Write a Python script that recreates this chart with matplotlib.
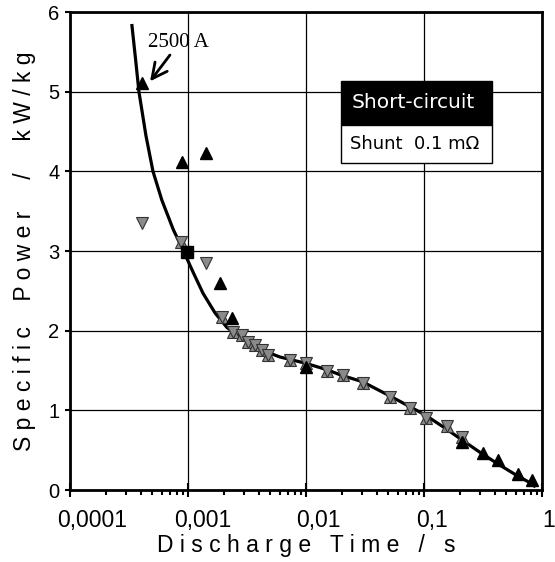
import matplotlib
matplotlib.use("Agg")
import matplotlib.pyplot as plt
import matplotlib.transforms as mtransforms
from matplotlib.patches import Rectangle

# --- data ---
# smooth fit line
curve_t = [0.000335, 0.00036, 0.000384, 0.00044, 0.000505, 0.0006, 0.00075,
           0.00091, 0.0011, 0.00134, 0.0017, 0.00214, 0.0028, 0.004, 0.006,
           0.01, 0.015, 0.02, 0.03, 0.05, 0.075, 0.1, 0.15, 0.2, 0.3, 0.42,
           0.6, 0.75, 0.86]
curve_p = [5.83, 5.4, 5.0, 4.45, 4.0, 3.64, 3.27, 3.01, 2.74, 2.47, 2.22,
           2.04, 1.91, 1.77, 1.67, 1.59, 1.51, 1.44, 1.36, 1.19, 1.05, 0.95,
           0.78, 0.65, 0.47, 0.33, 0.19, 0.11, 0.05]

# short-circuit (black up triangles)
sc_t = [0.00041, 0.00089, 0.00142, 0.00187, 0.00236, 0.01, 0.21, 0.316,
        0.42, 0.63, 0.82]
sc_p = [5.11, 4.12, 4.23, 2.6, 2.16, 1.54, 0.6, 0.46, 0.38, 0.2, 0.13]

# shunt 0.1 mOhm (grey, overlapping up/down triangles)
sh_t = [0.00087, 0.00194, 0.0024, 0.00287, 0.00322, 0.0037, 0.00424,
        0.00476, 0.0073, 0.01, 0.0151, 0.0206, 0.0304, 0.0515, 0.076,
        0.104, 0.157, 0.21]
sh_p = [3.11, 2.17, 1.98, 1.94, 1.86, 1.82, 1.76, 1.69, 1.63, 1.6, 1.5,
        1.44, 1.34, 1.17, 1.03, 0.9, 0.8, 0.66]

# isolated grey down triangles
dn_t = [0.00041, 0.00142]
dn_p = [3.35, 2.85]

# black square
sq_t = [0.00098]
sq_p = [2.99]

x_ticks = [0.0001, 0.001, 0.01, 0.1, 1]
x_labels = ["0,0001", "0,001", "0,01", "0,1", "1"]
y_ticks = [0, 1, 2, 3, 4, 5, 6]

fig = plt.figure(figsize=(5.55, 5.62), dpi=100)
ax = fig.add_axes([0.1261, 0.1281, 0.8505, 0.8505])

ax.plot(curve_t, curve_p, color="black", lw=2.3, zorder=3)

grey = "#8a8a8a"
ax.plot(sh_t, sh_p, ls="none", marker="^", ms=8, mfc=grey, mec="#333333",
        mew=0.8, zorder=4)
ax.plot(sh_t, sh_p, ls="none", marker="v", ms=8, mfc=grey, mec="#333333",
        mew=0.8, zorder=4)
ax.plot(dn_t, dn_p, ls="none", marker="v", ms=8, mfc=grey, mec="#333333",
        mew=0.8, zorder=4)
ax.plot(sq_t, sq_p, ls="none", marker="s", ms=8, color="black", zorder=5)
ax.plot(sc_t, sc_p, ls="none", marker="^", ms=9, color="black", zorder=5)

ax.set_xscale("log")
ax.set_xlim(0.0001, 1)
ax.set_ylim(0, 6)

ax.grid(True, which="major", color="black", lw=0.9)
for s in ax.spines.values():
    s.set_linewidth(2)

ax.set_xticks(x_ticks)
ax.set_xticklabels(x_labels, fontsize=16.5, family="Liberation Sans")
ax.set_yticks(y_ticks)
ax.set_yticklabels([str(v) for v in y_ticks], fontsize=14.5,
                   family="Liberation Sans")
ax.tick_params(axis="x", which="major", direction="inout", length=10,
               width=1.5, pad=9)
ax.tick_params(axis="x", which="minor", direction="out", length=3.5,
               width=1.5)
ax.tick_params(axis="y", which="major", direction="out", length=3.5,
               width=1.5, pad=4)

# shift x labels like the original
shifts = [22, 15, 12, 8, 7]
for lab, dx in zip(ax.get_xticklabels(), shifts):
    off = mtransforms.ScaledTranslation(dx / 100, 0, fig.dpi_scale_trans)
    lab.set_transform(lab.get_transform() + off)

ax.set_xlabel("D i s c h a r g e   T i m e   /   s", fontsize=16.5,
              family="Liberation Sans", labelpad=1)
ax.set_ylabel("S p e c i f i c    P o w e r     /     k W / k g",
              fontsize=16.5, family="Liberation Sans", labelpad=9)

# 2500 A note with arrow
ax.text(0.000458, 5.74, "2500 A", ha="left", va="top", fontsize=15,
        family="Liberation Serif", zorder=6)
ax.annotate("", xy=(0.000477, 5.13), xytext=(0.000703, 5.46),
            arrowprops=dict(arrowstyle="->,head_length=1.1,head_width=0.55",
                            lw=2, color="black", shrinkA=0, shrinkB=0),
            annotation_clip=False)

# legend boxes
ax.add_patch(Rectangle((0.574, 0.764), 0.32, 0.092, transform=ax.transAxes,
                       facecolor="black", edgecolor="black", lw=1, zorder=6))
ax.add_patch(Rectangle((0.574, 0.684), 0.32, 0.080, transform=ax.transAxes,
                       facecolor="white", edgecolor="black", lw=1, zorder=6))
ax.text(0.728, 0.81, "Short-circuit", transform=ax.transAxes, color="white",
        ha="center", va="center", fontsize=14.5, family="DejaVu Sans",
        zorder=7)
ax.text(0.73, 0.724, "Shunt  0.1 m\u03a9", transform=ax.transAxes,
        color="black", ha="center", va="center", fontsize=13,
        family="DejaVu Sans", zorder=7)

fig.savefig("out.png", dpi=100)
